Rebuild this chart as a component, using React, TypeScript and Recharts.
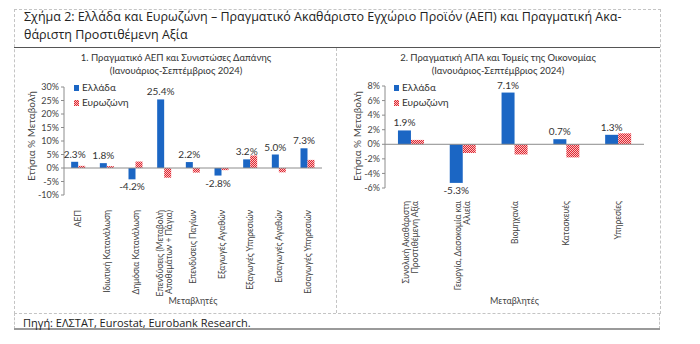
import React from "react";
import {
  BarChart,
  Bar,
  XAxis,
  YAxis,
  ReferenceLine,
  LabelList,
} from "recharts";

// 1. Πραγματικό ΑΕΠ και Συνιστώσες Δαπάνης
const gdpCategories = [
  "ΑΕΠ",
  "Ιδιωτική Κατανάλωση",
  "Δημόσια Κατανάλωση",
  "Επενδύσεις (Μεταβολή\nΑποθεμάτων + Πάγια)",
  "Επενδύσεις Παγίων",
  "Εξαγωγές Αγαθών",
  "Εξαγωγές Υπηρεσιών",
  "Εισαγωγές Αγαθών",
  "Εισαγωγές Υπηρεσιών",
];
const gdpGreece = [2.3, 1.8, -4.2, 25.4, 2.2, -2.8, 3.2, 5.0, 7.3];
const gdpEurozone = [0.8, 0.7, 2.4, -3.6, -1.7, -0.8, 4.6, -1.6, 3.0];
const gdpTicks = [-10, -5, 0, 5, 10, 15, 20, 25, 30];

// 2. Πραγματική ΑΠΑ και Τομείς της Οικονομίας
const gvaCategories = [
  "Συνολική Ακαθάριστη\nΠροστιθέμενη Αξία",
  "Γεωργία, Δασοκομία και\nΑλιεία",
  "Βιομηχανία",
  "Κατασκευές",
  "Υπηρεσίες",
];
const gvaGreece = [1.9, -5.3, 7.1, 0.7, 1.3];
const gvaEurozone = [0.6, -1.2, -1.4, -1.8, 1.5];
const gvaTicks = [-6, -4, -2, 0, 2, 4, 6, 8];

const BLUE = "#1b66c4";
const RED = "#e3262f";
const PINK = "#f7c3c6";
const FONT = "Lato, 'Noto Sans', sans-serif";
const GRAY = "#8c8c8c";

const pct = (v: number) => `${v}%`;

const RotTick = ({ x, y, payload, offset }: any) => {
  const lines = String(payload.value).split("\n");
  return (
    <g transform={`translate(${x},${y + offset})`}>
      {lines.map((l, i) => (
        <text
          key={i}
          transform="rotate(-90)"
          x={0}
          y={0}
          dy={(i - (lines.length - 1) / 2) * 9 + 3}
          textAnchor="end"
          fontSize={8.5}
          fill="#444"
          fontFamily={FONT}
        >
          {l}
        </text>
      ))}
    </g>
  );
};

const Hatch = ({ id }: { id: string }) => (
  <pattern id={id} width={2} height={2} patternUnits="userSpaceOnUse">
    <rect width={2} height={2} fill={RED} />
    <rect width={1} height={1} fill={PINK} />
    <rect x={1} y={1} width={1} height={1} fill={PINK} />
  </pattern>
);

const HatchSwatch = () => (
  <svg width={5} height={6} style={{ marginRight: 3 }}>
    <defs>
      <Hatch id="hatchLegend" />
    </defs>
    <rect width={5} height={6} fill="url(#hatchLegend)" />
  </svg>
);

const LegendBox = ({ left }: { left: number }) => (
  <div
    style={{
      position: "absolute",
      left,
      top: 80,
      fontFamily: FONT,
      fontSize: 10,
      color: "#333",
      lineHeight: "15px",
    }}
  >
    <div style={{ display: "flex", alignItems: "center" }}>
      <span style={{ width: 5, height: 6, background: BLUE, marginRight: 3 }} />
      Ελλάδα
    </div>
    <div style={{ display: "flex", alignItems: "center" }}>
      <HatchSwatch />
      Ευρωζώνη
    </div>
  </div>
);

type PanelProps = {
  id: string;
  left: number;
  width: number;
  categories: string[];
  greece: number[];
  eurozone: number[];
  ticks: number[];
  marginTop: number;
  xAxisHeight: number;
  yAxisWidth: number;
  marginRight: number;
  tickOffset: number;
  legendLeft: number;
  yLabelX: number;
  title: string;
  titleCenter: number;
};

const Panel = (p: PanelProps) => {
  const data = p.categories.map((c, i) => ({
    name: c,
    greece: p.greece[i],
    eurozone: p.eurozone[i],
  }));
  return (
    <>
      <div
        style={{
          position: "absolute",
          left: p.titleCenter - 150,
          width: 300,
          top: 51,
          textAlign: "center",
          fontFamily: FONT,
          fontSize: 9.5,
          lineHeight: "13px",
          color: "#333",
        }}
      >
        {p.title}
        <br />
        (Ιανουάριος-Σεπτέμβριος 2024)
      </div>
      <div
        style={{
          position: "absolute",
          left: p.yLabelX - 60,
          top: 136 - 7,
          width: 120,
          height: 14,
          lineHeight: "14px",
          textAlign: "center",
          transform: "rotate(-90deg)",
          fontFamily: FONT,
          fontSize: 10,
          color: "#444",
        }}
      >
        Ετήσια % Μεταβολή
      </div>
      <div style={{ position: "absolute", left: p.left, top: 0 }}>
        <BarChart
          width={p.width}
          height={310}
          data={data}
          margin={{ top: p.marginTop, right: p.marginRight, bottom: 0, left: 0 }}
          barCategoryGap="25%"
          barGap={0}
        >
          <defs>
            <Hatch id={`hatch-${p.id}`} />
          </defs>
          <XAxis
            dataKey="name"
            interval={0}
            height={p.xAxisHeight}
            axisLine={false}
            tickLine={false}
            tick={<RotTick offset={p.tickOffset} />}
            label={{
              value: "Μεταβλητές",
              position: "insideBottom",
              offset: 6,
              fontSize: 9,
              fill: "#444",
              fontFamily: FONT,
            }}
          />
          <YAxis
            width={p.yAxisWidth}
            domain={[p.ticks[0], p.ticks[p.ticks.length - 1]]}
            ticks={p.ticks}
            tickFormatter={pct}
            interval={0}
            axisLine={{ stroke: GRAY }}
            tickLine={{ stroke: GRAY }}
            tickSize={3}
            tick={{ fontSize: 9, fill: "#444", fontFamily: FONT }}
          />
          <ReferenceLine y={0} stroke={GRAY} />
          <Bar dataKey="greece" name="Ελλάδα" fill={BLUE} isAnimationActive={false}>
            <LabelList
              dataKey="greece"
              position="top"
              offset={4}
              formatter={(v: any) => `${Number(v).toFixed(1)}%`}
              style={{ fontSize: 10, fill: "#333", fontFamily: FONT }}
            />
          </Bar>
          <Bar
            dataKey="eurozone"
            name="Ευρωζώνη"
            fill={`url(#hatch-${p.id})`}
            isAnimationActive={false}
          />
        </BarChart>
      </div>
      <LegendBox left={p.legendLeft} />
    </>
  );
};

const App = () => {
  return (
    <div
      style={{
        position: "fixed",
        left: 0,
        top: 0,
        width: 700,
        height: 344,
        background: "#fff",
        overflow: "hidden",
      }}
    >
      {/* frame */}
      <div
        style={{
          position: "absolute",
          left: 14,
          top: 9,
          width: 645,
          height: 304,
          border: "1px dashed #c4c4c4",
          borderBottom: "none",
        }}
      />
      <div style={{ position: "absolute", left: 14, top: 47, width: 646, height: 1, background: "#555" }} />
      <div style={{ position: "absolute", left: 336, top: 48, width: 0, height: 265, borderLeft: "1px dashed #c4c4c4" }} />
      <div style={{ position: "absolute", left: 14, top: 313, width: 646, height: 0, borderTop: "1px dashed #c4c4c4" }} />
      <div style={{ position: "absolute", left: 14, top: 313, width: 0, height: 16, borderLeft: "1px dashed #c4c4c4" }} />
      <div style={{ position: "absolute", left: 659, top: 313, width: 0, height: 16, borderLeft: "1px dashed #c4c4c4" }} />
      <div style={{ position: "absolute", left: 14, top: 328, width: 646, height: 2, background: "#9a9a9a" }} />

      <div
        style={{
          position: "absolute",
          left: 24,
          top: 8,
          width: 640,
          fontFamily: "'Open Sans', sans-serif",
          fontSize: 12.5,
          lineHeight: "18px",
          color: "#222",
        }}
      >
        Σχήμα 2: Ελλάδα και Ευρωζώνη – Πραγματικό Ακαθάριστο Εγχώριο Προϊόν (ΑΕΠ) και Πραγματική Ακα-
        <br />
        θάριστη Προστιθέμενη Αξία
      </div>

      <Panel
        id="gdp"
        left={0}
        width={336}
        categories={gdpCategories}
        greece={gdpGreece}
        eurozone={gdpEurozone}
        ticks={gdpTicks}
        marginTop={87}
        xAxisHeight={115}
        yAxisWidth={64}
        marginRight={14}
        tickOffset={7}
        legendLeft={74}
        yLabelX={31}
        title="1. Πραγματικό ΑΕΠ και Συνιστώσες Δαπάνης"
        titleCenter={176}
      />
      <Panel
        id="gva"
        left={336}
        width={324}
        categories={gvaCategories}
        greece={gvaGreece}
        eurozone={gvaEurozone}
        ticks={gvaTicks}
        marginTop={86}
        xAxisHeight={122}
        yAxisWidth={49}
        marginRight={16}
        tickOffset={5}
        legendLeft={394}
        yLabelX={357}
        title="2. Πραγματική ΑΠΑ και Τομείς της Οικονομίας"
        titleCenter={498}
      />

      <div
        style={{
          position: "absolute",
          left: 23,
          top: 315,
          fontFamily: "'Open Sans', sans-serif",
          fontSize: 11,
          color: "#222",
        }}
      >
        Πηγή: ΕΛΣΤΑΤ, Eurostat, Eurobank Research.
      </div>
    </div>
  );
};

export default App;
